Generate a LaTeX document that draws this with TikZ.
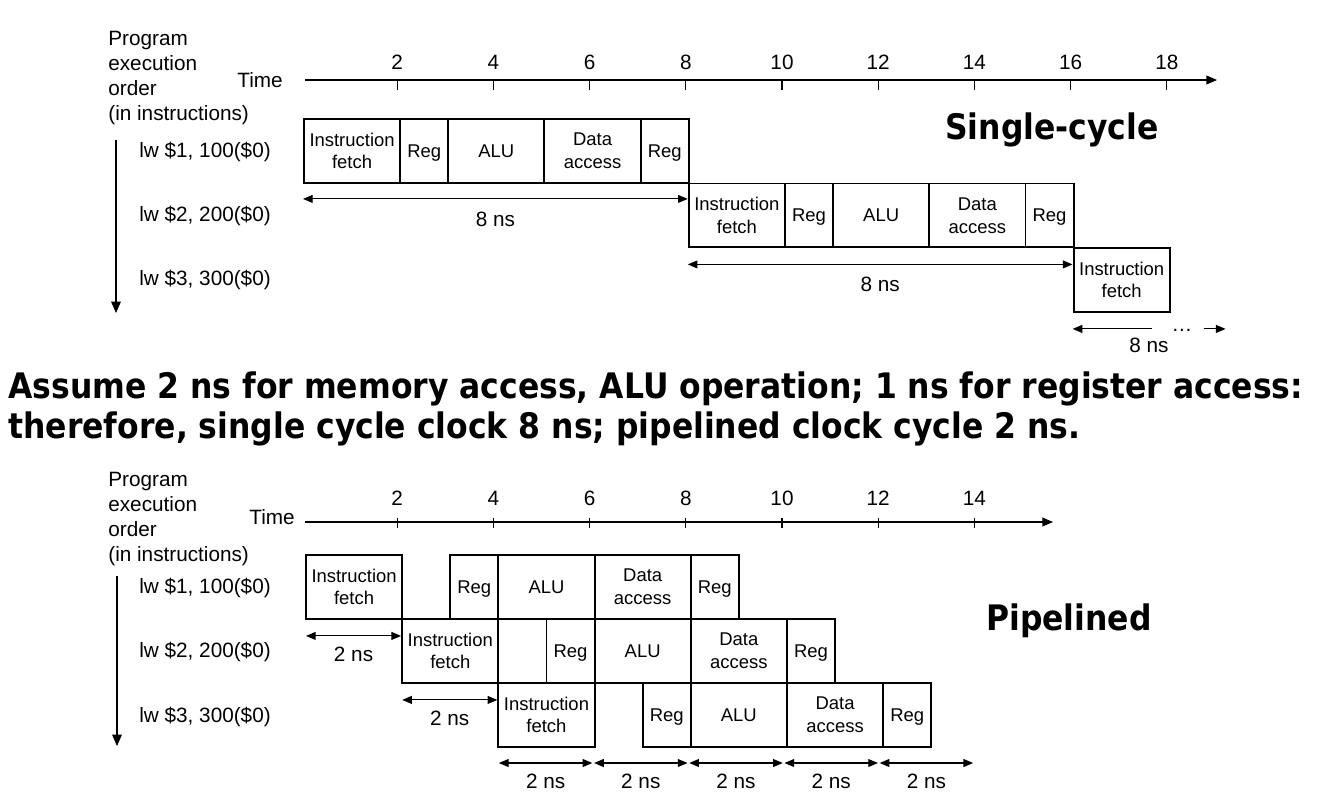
\documentclass[tikz,border=0pt]{standalone}
\usepackage{fontspec}
\setmainfont{Liberation Sans}
\newfontfamily\headfont[FakeStretch=0.895]{DejaVu Sans}
\usetikzlibrary{arrows.meta,calc,positioning}

\newcommand{\stagefont}{\fontsize{10.5}{12.9}\selectfont}
\newcommand{\labelfont}{\fontsize{11.8}{14.2}\selectfont}
\newcommand{\headsize}{\headfont\bfseries\fontsize{20}{24}\selectfont}
\newcommand{\nodepth}[1]{\raisebox{0pt}[\height][0pt]{#1}}

\begin{document}
\begin{tikzpicture}[
    x=0.02cm, y=-0.02cm,
    stage/.style={draw,line width=1.1pt,anchor=north west,inner sep=0pt,
                  minimum height=1.28cm,align=center,font=\stagefont},
    txt/.style={inner sep=0pt,font=\labelfont},
    head/.style={inner sep=0pt,anchor=base,font=\headsize},
    caption/.style={inner sep=0pt,anchor=base west,font=\headsize},
    axis/.style={line width=0.6pt,-{Triangle[length=6pt,width=5pt]}},
    tick/.style={line width=0.6pt},
    span/.style={line width=0.6pt,
                 {Triangle[length=5.5pt,width=4.5pt]}-{Triangle[length=5.5pt,width=4.5pt]}},
    order/.style={line width=0.6pt,-{Triangle[length=6.5pt,width=5.5pt]}},
  ]
  \useasboundingbox (0,0) rectangle (1317,798);
  \def\ns{48.1}   % one ns, in px

  % ---------------------------------------------------------------- single-cycle
  \def\xs{303}    % time 0 of the stages
  \node[txt,align=left,anchor=north west] (order1) at (108,31)
    {Program\\execution\\order\\(in instructions)};
  \node[txt] (time1) at (260,80) {Time};
  \coordinate (ax1a) at (305,80);
  \coordinate (ax1b) at (1217,80);
  \draw[axis] (ax1a) -- (ax1b);
  \foreach \t in {2,4,...,18} {
    \draw[tick] ({\xs-2+\t*\ns},80) -- ++(0,10);
    \node[txt] (tl1-\t) at ({\xs-2+\t*\ns},62) {\t};
  }

  \foreach \row/\start in {1/0,2/8} {
    \foreach \idx/\off/\dur/\lab in {1/0/2/{Instruction\\fetch},2/2/1/{\nodepth{Reg}},3/3/2/ALU,
                                     4/5/2/{Data\\access},5/7/1/{\nodepth{Reg}}} {
      \pgfmathsetmacro{\w}{\dur*0.962}
      \node[stage,minimum width=\w cm] (sc\row-\idx)
        at ({\xs+(\start+\off)*\ns},{118+(\row-1)*64.5}) {\lab};
    }
  }
  \node[stage,minimum width=1.924cm] (sc3-1) at ({\xs+16*\ns},247) {Instruction\\fetch};

  \foreach \row/\y/\v in {1/152/100,2/216/200,3/280/300}
    \node[txt,anchor=west] (ins1-\row) at (139,\y) {lw \$\row, \v(\$0)};
  \coordinate (ord1a) at (116,140);
  \coordinate (ord1b) at (116,313);
  \draw[order] (ord1a) -- (ord1b);

  % 8 ns per instruction
  \draw[span] ($(sc1-1.south west)+(0,15)$) -- ($(sc1-5.south east)+(-2,15)$)
    node[txt,midway,below=7pt] (ns1) {8 ns};
  \draw[span] ($(sc2-1.south west)+(0,16)$) -- ($(sc2-5.south east)+(-2,16)$)
    node[txt,midway,below=7pt] (ns2) {8 ns};
  \coordinate (c3a) at ($(sc3-1.south west)+(0,16)$);
  \coordinate (c3b) at ($(c3a)+(79,0)$);
  \coordinate (c3c) at ($(c3a)+(131,0)$);
  \coordinate (c3d) at ($(c3a)+(153,0)$);
  \draw[line width=0.6pt,{Triangle[length=5.5pt,width=4.5pt]}-] (c3a) -- (c3b);
  \node[txt,anchor=base] (dots) at (1182,331) {\ldots};
  \draw[line width=0.6pt,-{Triangle[length=5.5pt,width=4.5pt]}] (c3c) -- (c3d);
  \node[txt] (ns3) at (1149,345) {8 ns};

  \node[head] (sctitle) at (1052,139) {Single-cycle};

  % ---------------------------------------------------------------- caption
  \node[caption] (cap1) at (8,398)
    {Assume 2 ns for memory access, ALU operation; 1 ns for register access:};
  \node[caption] (cap2) at (8,438)
    {therefore, single cycle clock 8 ns; pipelined clock cycle 2 ns.};

  % ---------------------------------------------------------------- pipelined
  \def\xp{305}    % time 0 of the stages
  \node[txt,align=left,anchor=north west] (order2) at (108,472)
    {Program\\execution\\order\\(in instructions)};
  \node[txt] (time2) at (272,517) {Time};
  \coordinate (ax2a) at (305,522);
  \coordinate (ax2b) at (1053,522);
  \draw[axis] (ax2a) -- (ax2b);
  \foreach \t in {2,4,...,14} {
    \draw[tick] ({\xp-4+\t*\ns},518) -- ++(0,10);
    \node[txt] (tl2-\t) at ({\xp-4+\t*\ns},498) {\t};
  }

  \foreach \row in {1,2,3} {
    \foreach \idx/\off/\dur/\lab in {1/0/2/{Instruction\\fetch},2/3/1/{\nodepth{Reg}},3/4/2/ALU,
                                     4/6/2/{Data\\access},5/8/1/{\nodepth{Reg}}} {
      \pgfmathsetmacro{\w}{\dur*0.962}
      \node[stage,minimum width=\w cm] (pl\row-\idx)
        at ({\xp+(2*(\row-1)+\off)*\ns},{554+(\row-1)*64}) {\lab};
    }
  }

  \foreach \row/\y/\v in {1/588/100,2/652/200,3/717/300}
    \node[txt,anchor=west] (ins2-\row) at (139,\y) {lw \$\row, \v(\$0)};
  \coordinate (ord2a) at (117,576);
  \coordinate (ord2b) at (117,746);
  \draw[order] (ord2a) -- (ord2b);

  % 2 ns per stage
  \draw[span] ($(pl1-1.south west)+(1,16)$) -- ($(pl1-1.south east)+(-2,16)$)
    node[txt,midway,below=6pt] (ns4) {2 ns};
  \draw[span] ($(pl2-1.south west)+(1,16)$) -- ($(pl2-1.south east)+(-2,16)$)
    node[txt,midway,below=6pt] (ns5) {2 ns};
  \foreach \i in {0,...,5}
    \coordinate (q\i) at ({498+\i*95.2},763);
  \foreach \i [evaluate=\i as \j using int(\i+1)] in {0,...,4}
    \draw[span,shorten <=0.5pt,shorten >=0.5pt] (q\i) -- (q\j)
      node[txt,midway,below=6pt] (cy\i) {2 ns};

  \node[head] (pltitle) at (1069,630) {Pipelined};
\end{tikzpicture}
\end{document}
